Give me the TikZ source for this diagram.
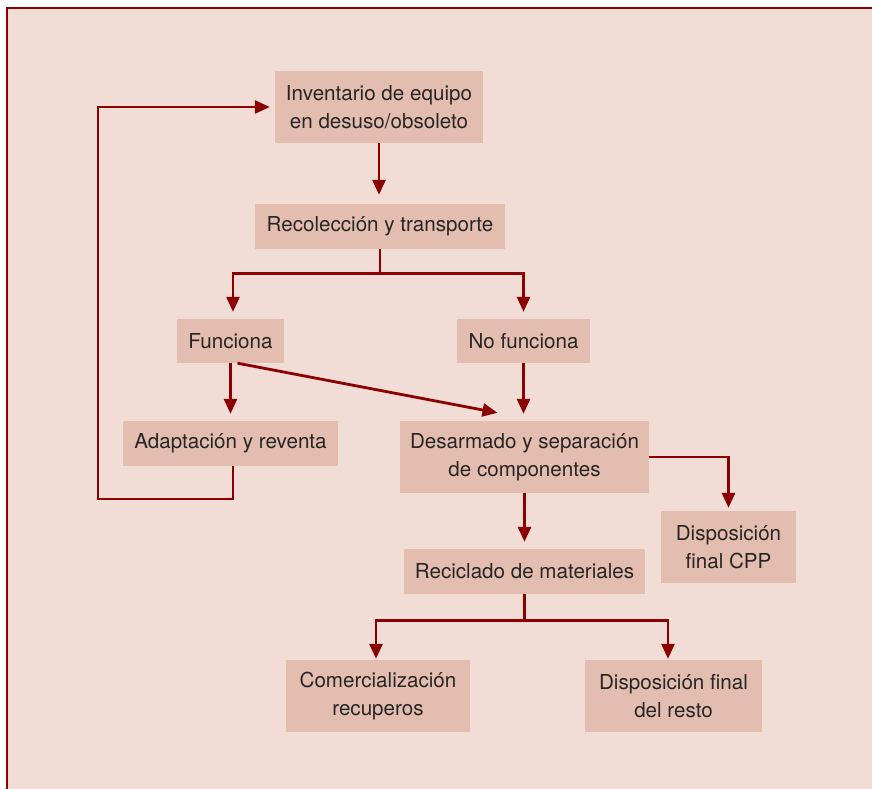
\documentclass[tikz,border=0pt]{standalone}
\usepackage{fontspec}
\setmainfont{TeX Gyre Heros}
\usetikzlibrary{arrows.meta,calc}
\definecolor{bgpink}{RGB}{241,221,213}
\definecolor{boxpink}{RGB}{227,189,176}
\definecolor{darkred}{RGB}{139,0,0}
\definecolor{txt}{RGB}{40,37,37}
\tikzset{
  box/.style={fill=boxpink, text=txt, align=center, inner sep=0pt,
    font=\fontsize{20.6pt}{28pt}\selectfont},
  arr/.style={draw=darkred, line width=2.8pt,
    -{Triangle[width=13pt,length=15pt]}, shorten >=7pt},
  ln/.style={draw=darkred, line width=2.8pt}
}
\begin{document}
\begin{tikzpicture}[x=1pt,y=-1pt]
\useasboundingbox (0,0) rectangle (872,789);
\fill[white] (0,0) rectangle (872,789);
\fill[bgpink] (7,8) rectangle (872,789);
\draw[darkred, line width=1.6pt] (7,789) -- (7,8) -- (872,8);

\node[box, minimum width=208pt, minimum height=72pt] (inv) at (379,107) {Inventario de equipo\\en desuso/obsoleto};
\node[box, minimum width=250pt, minimum height=45pt] (rec) at (380,226.5) {Recolecci\'on y transporte};
\node[box, minimum width=107pt, minimum height=44pt] (fun) at (230.5,341) {Funciona};
\node[box, minimum width=133pt, minimum height=44pt] (nof) at (523.5,341) {No funciona};
\node[box, minimum width=215pt, minimum height=45pt] (ada) at (230.5,443.5) {Adaptaci\'on y reventa};
\node[box, minimum width=249pt, minimum height=72pt] (des) at (524.5,457) {Desarmado y separaci\'on\\de componentes};
\node[box, minimum width=135pt, minimum height=72pt] (cpp) at (728.5,547) {Disposici\'on\\final CPP};
\node[box, minimum width=241pt, minimum height=45pt] (rcm) at (524.5,571.5) {Reciclado de materiales};
\node[box, minimum width=184pt, minimum height=72pt] (com) at (378,696) {Comercializaci\'on\\recuperos};
\node[box, minimum width=177pt, minimum height=72pt] (res) at (673.5,696) {Disposici\'on final\\del resto};

\coordinate (lp) at (98,499);

\draw[arr, shorten >=9pt] (inv.south) -- (inv.south |- rec.north);
\draw[ln] (rec.south) -- ++(0,24) coordinate (rb);
\draw[arr] (rb) -| ([xshift=2.5pt]fun.north);
\draw[arr] (rb) -| (nof.north);
\draw[arr] (fun.south) -- (fun.south |- ada.north);
\draw[arr] (nof.south) -- (nof.south |- des.north);
\draw[arr, shorten >=0pt] ([xshift=7pt]fun.south) -- ([xshift=-27pt,yshift=8pt]des.north);
\draw[arr, shorten >=0pt] ([xshift=2.5pt]ada.south) |- (lp) |- ([xshift=-5pt]inv.west);
\draw[arr, shorten >=3pt] (des.east) -| (cpp.north);
\draw[arr] (des.south) -- (des.south |- rcm.north);
\draw[ln] (rcm.south) -- ++(0,26.5) coordinate (cb);
\draw[arr, shorten >=1pt] (cb) -| ([xshift=-2pt]com.north);
\draw[arr, shorten >=1pt] (cb) -| ([xshift=-5.5pt]res.north);
\end{tikzpicture}
\end{document}
